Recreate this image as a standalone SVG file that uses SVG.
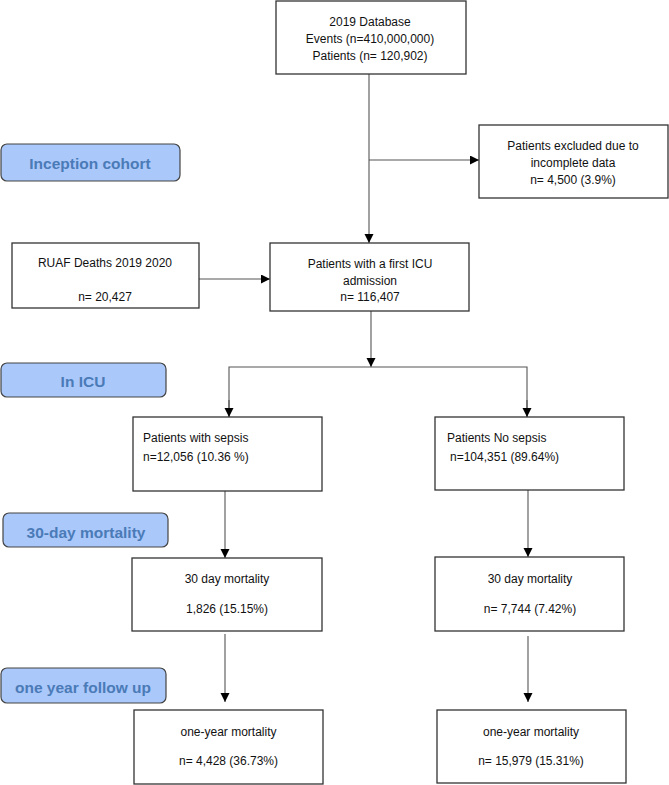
<svg xmlns="http://www.w3.org/2000/svg" width="669" height="785" viewBox="0 0 669 785">
<defs>
<marker id="arr" markerUnits="userSpaceOnUse" markerWidth="10" markerHeight="10" refX="9" refY="4.5" orient="auto">
<path d="M0,0 L9,4.5 L0,9 z" fill="#000"/>
</marker>
<style>
.box{fill:#fff;stroke:#333;stroke-width:1.3}
.lbl{fill:#abc8fb;stroke:#444;stroke-width:1.2}
.t{font-family:"Liberation Sans",Arial,sans-serif;font-size:12px;fill:#111}
.c{text-anchor:middle}
.lt{font-family:"Liberation Sans",Arial,sans-serif;font-size:15.5px;font-weight:bold;fill:#4a7bb7;text-anchor:middle}
.ln{fill:none;stroke:#555;stroke-width:1.1}
</style>
</defs>
<rect width="669" height="785" fill="#fff"/>

<g id="connectors">
<line class="ln" x1="369" y1="74" x2="369" y2="243" marker-end="url(#arr)"/>
<line class="ln" x1="369" y1="160" x2="479" y2="160" marker-end="url(#arr)"/>
<line class="ln" x1="199" y1="279" x2="270" y2="279" marker-end="url(#arr)"/>
<line class="ln" x1="371" y1="311" x2="371" y2="367" marker-end="url(#arr)"/>
<polyline class="ln" points="229,417 229,367 527,367 527,417"/>
<line class="ln" x1="229" y1="400" x2="229" y2="417" marker-end="url(#arr)"/>
<line class="ln" x1="527" y1="400" x2="527" y2="417" marker-end="url(#arr)"/>
<line class="ln" x1="225" y1="491" x2="225" y2="558" marker-end="url(#arr)"/>
<line class="ln" x1="528" y1="490" x2="528" y2="557" marker-end="url(#arr)"/>
<line class="ln" x1="225" y1="634" x2="225" y2="702" marker-end="url(#arr)"/>
<line class="ln" x1="528" y1="636" x2="528" y2="702" marker-end="url(#arr)"/>
</g>

<g id="label-inception">
<rect class="lbl" x="1" y="144" width="179" height="37" rx="6"/>
<text class="lt" x="90" y="168.5">Inception cohort</text>
</g>
<g id="label-inicu">
<rect class="lbl" x="1" y="363" width="165" height="34" rx="6"/>
<text class="lt" x="83" y="386.5">In ICU</text>
</g>
<g id="label-30day">
<rect class="lbl" x="3" y="513" width="165" height="34" rx="6"/>
<text class="lt" x="86" y="537.5">30-day mortality</text>
</g>
<g id="label-oneyear">
<rect class="lbl" x="1" y="668" width="165" height="35" rx="6"/>
<text class="lt" x="83" y="692.5">one year follow up</text>
</g>

<g id="database">
<rect class="box" x="276" y="1" width="190" height="73"/>
<text class="t c" x="370" y="25.5">2019 Database</text>
<text class="t c" x="370" y="42.5">Events (n=410,000,000)</text>
<text class="t c" x="370" y="59.5">Patients (n= 120,902)</text>
</g>
<g id="excluded">
<rect class="box" x="479" y="125" width="189" height="73"/>
<text class="t c" x="573" y="149.5">Patients excluded due to</text>
<text class="t c" x="573" y="166.5">incomplete data</text>
<text class="t c" x="573" y="184">n= 4,500 (3.9%)</text>
</g>
<g id="ruaf">
<rect class="box" x="12" y="243" width="187" height="65"/>
<text class="t c" x="105" y="266.5">RUAF Deaths 2019 2020</text>
<text class="t c" x="105" y="300.5">n= 20,427</text>
</g>
<g id="first-icu">
<rect class="box" x="270" y="243" width="199" height="68"/>
<text class="t c" x="370" y="267.5">Patients with a first ICU</text>
<text class="t c" x="370" y="284.5">admission</text>
<text class="t c" x="370" y="300.5">n= 116,407</text>
</g>
<g id="sepsis">
<rect class="box" x="133" y="417" width="189" height="74"/>
<text class="t" x="143" y="441.5">Patients with sepsis</text>
<text class="t" x="143" y="461">n=12,056 (10.36 %)</text>
</g>
<g id="no-sepsis">
<rect class="box" x="435" y="417" width="189" height="73"/>
<text class="t" x="447" y="441.5">Patients No sepsis</text>
<text class="t" x="450" y="461">n=104,351 (89.64%)</text>
</g>
<g id="mort30-sepsis">
<rect class="box" x="132" y="558" width="190" height="73"/>
<text class="t c" x="227" y="582.5">30 day mortality</text>
<text class="t c" x="227" y="612.5">1,826 (15.15%)</text>
</g>
<g id="mort30-nosepsis">
<rect class="box" x="435" y="557" width="189" height="74"/>
<text class="t c" x="530" y="582.5">30 day mortality</text>
<text class="t c" x="530" y="612.5">n= 7,744 (7.42%)</text>
</g>
<g id="mort1y-sepsis">
<rect class="box" x="134" y="710" width="189" height="74"/>
<text class="t c" x="228.5" y="735.5">one-year mortality</text>
<text class="t c" x="228.5" y="764.5">n= 4,428 (36.73%)</text>
</g>
<g id="mort1y-nosepsis">
<rect class="box" x="437" y="710" width="189" height="73"/>
<text class="t c" x="531" y="735.5">one-year mortality</text>
<text class="t c" x="531" y="764.5">n= 15,979 (15.31%)</text>
</g>
</svg>
